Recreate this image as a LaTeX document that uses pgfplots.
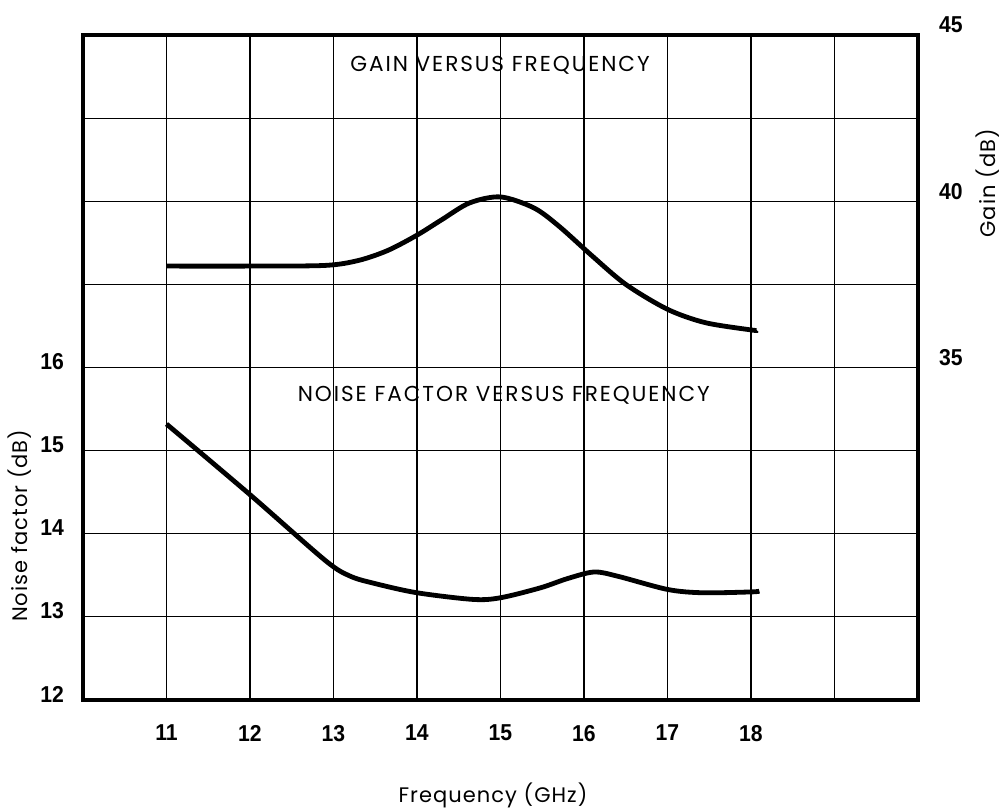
\documentclass[border=0pt]{standalone}
\usepackage{fontspec}
\setmainfont{Poppins}
\newfontfamily\tickfont[FakeStretch=0.92]{Liberation Sans}
\usepackage{pgfplots}
\pgfplotsset{compat=1.18}
\begin{document}
\begin{tikzpicture}
\useasboundingbox (-41.5pt,-54.5pt) rectangle (460pt,350pt);
\begin{axis}[
  at={(0,0)}, anchor=south west,
  scale only axis, width=417.5pt, height=332.5pt,
  xmin=10, xmax=20, ymin=12, ymax=20,
  xtick={11,...,19}, xticklabels={11,12,13,14,15,16,17,18,},
  ytick={12,...,19}, yticklabels={12,13,14,15,16,,,},
  grid=major, major grid style={black, line width=0.6pt},
  major tick length=0pt,
  axis line style={line width=1.6pt},
  tick label style={font=\tickfont\bfseries\fontsize{11.5}{13}\selectfont},
  xticklabel style={yshift=-9pt},
  yticklabel style={xshift=-6pt, yshift=3pt},
  clip=false,
]
\addplot[black, line width=2.4pt, smooth, tension=0.5] coordinates {
 (11.0,15.32) (12,14.47) (12.9,13.68) (13.2,13.49)
 (13.5,13.40) (14,13.29) (14.67,13.21) (15,13.23) (15.48,13.35) (15.8,13.46)
 (16.12,13.54) (16.4,13.49) (17,13.33) (17.42,13.29) (18,13.30) (18.1,13.31)
};
\node[font=\fontsize{10.8}{12}\selectfont\addfontfeature{LetterSpace=9}] at (rel axis cs:0.4994,0.955) {GAIN VERSUS FREQUENCY};
\node[font=\fontsize{10.8}{12}\selectfont\addfontfeature{LetterSpace=9}] at (rel axis cs:0.504,0.4586) {NOISE FACTOR VERSUS FREQUENCY};
\node[font=\fontsize{10.5}{12}\selectfont\addfontfeature{LetterSpace=5}] at (rel axis cs:0.491,-0.143) {Frequency (GHz)};
\node[rotate=90, font=\fontsize{10.5}{12}\selectfont\addfontfeature{LetterSpace=5}] at (rel axis cs:-0.0754,0.262) {Noise factor (dB)};
\node[rotate=90, font=\fontsize{10.5}{12}\selectfont\addfontfeature{LetterSpace=5}] at (rel axis cs:1.084,0.777) {Gain (dB)};
\end{axis}
\begin{axis}[
  at={(0,0)}, anchor=south west,
  scale only axis, width=417.5pt, height=332.5pt,
  xmin=10, xmax=20, ymin=25, ymax=45,
  axis x line=none, axis y line*=right,
  ytick={35,40,45}, yticklabels={35,40,45},
  major tick length=0pt,
  axis line style={line width=1.6pt},
  tick label style={font=\tickfont\bfseries\fontsize{11.5}{13}\selectfont},
  yticklabel style={xshift=7pt, yshift=5pt},
]
\addplot[black, line width=2.4pt, smooth, tension=0.5] coordinates {
 (11,38.05) (12,38.05) (12.9,38.07) (13.3,38.22) (13.65,38.52) (14,38.98)
 (14.3,39.45) (14.63,39.95) (15,40.13) (15.4,39.8) (15.7,39.25) (16.1,38.35)
 (16.5,37.5) (17,36.75) (17.45,36.35) (18,36.13) (18.07,36.12)
};
\end{axis}
\end{tikzpicture}
\end{document}
